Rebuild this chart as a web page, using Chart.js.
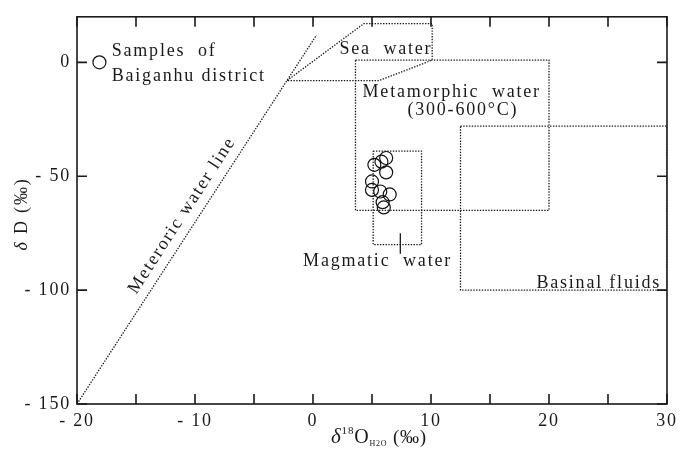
<!DOCTYPE html>
<html>
<head>
<meta charset="utf-8">
<script src="https://cdn.jsdelivr.net/npm/chart.js@4/dist/chart.umd.min.js"></script>
<style>
	html, body { margin: 0; padding: 0; background: #fff; }
</style>
</head>
<body>
<canvas id="chart" width="682" height="454"></canvas>
<script>
// Dữ liệu mẫu (δ18O, δD)
const sampleO = [6.2, 5.8, 5.2, 6.2, 5.0, 5.0, 5.7, 6.5, 5.9, 6.0];
const sampleD = [-42, -43.6, -45, -48.3, -52.3, -56, -56.7, -58, -61.4, -63.7];

// Đường nước khí tượng
const meteoricO = [-20, 0.3];
const meteoricD = [-150, 12];

// Các vùng nước
const seaWaterO = [-2.2, 4.3, 10.1, 10.1, 5.6, -2.2];
const seaWaterD = [-8, 17, 17, 1, -8, -8];
const metamorphicO = [3.6, 20, 20, 3.6, 3.6];
const metamorphicD = [1, 1, -65, -65, 1];
const magmaticO = [5.1, 9.2, 9.2, 5.1, 5.1];
const magmaticD = [-39, -39, -80, -80, -39];
const magmaticPointerO = [7.4, 7.4];
const magmaticPointerD = [-75, -84];
const basinalO = [12.5, 30, 30, 12.5, 12.5];
const basinalD = [-28, -28, -100, -100, -28];

// Ký hiệu chú thích
const legendO = [-18.1];
const legendD = [0];

// Nhãn trục
const xTicks = [-20, -10, 0, 10, 20, 30];
const yTicks = [0, -50, -100, -150];

const serif = '"Liberation Serif", "Times New Roman", serif';
const ink = '#1a1a1a';

function pts(xs, ys) {
	return xs.map(function(v, i) { return { x: v, y: ys[i] }; });
}

function fmt(v) {
	return v < 0 ? '- ' + Math.abs(v) : '' + v;
}

function dotted(xs, ys) {
	return {
		data: pts(xs, ys),
		showLine: true,
		borderColor: ink,
		borderWidth: 1.3,
		borderDash: [1.4, 1.4],
		pointRadius: 0,
		fill: false
	};
}

// Chữ chú thích (tọa độ theo dữ liệu)
const notes = [
	{ text: 'Samples  of', x: -17.06, y: 2.8, align: 'left' },
	{ text: 'Baiganhu district', x: -17.06, y: -8.3, align: 'left' },
	{ text: 'Sea  water', x: 2.24, y: 3.6, align: 'left' },
	{ text: 'Metamorphic  water', x: 4.2, y: -15.3, align: 'left' },
	{ text: '(300-600°C)', x: 8.0, y: -23.2, align: 'left' },
	{ text: 'Magmatic  water', x: -0.84, y: -89.4, align: 'left' },
	{ text: 'Basinal fluids', x: 29.5, y: -99.1, align: 'right' }
];

const decor = {
	id: 'decor',
	beforeDraw(chart) {
		chart.ctx.letterSpacing = '1.8px';
	},
	afterDatasetsDraw(chart) {
		const ctx = chart.ctx;
		const a = chart.chartArea;
		const x = chart.scales.x;
		const y = chart.scales.y;
		ctx.save();
		ctx.setLineDash([]);
		ctx.letterSpacing = '1.8px';

		// khung và vạch chia hướng vào trong
		ctx.strokeStyle = ink;
		ctx.lineWidth = 1.6;
		ctx.strokeRect(a.left, a.top, a.right - a.left, a.bottom - a.top);
		ctx.beginPath();
		x.ticks.forEach(function(t) {
			const px = x.getPixelForValue(t.value);
			ctx.moveTo(px, a.bottom); ctx.lineTo(px, a.bottom - 10);
			ctx.moveTo(px, a.top); ctx.lineTo(px, a.top + 10);
		});
		y.ticks.forEach(function(t) {
			const py = y.getPixelForValue(t.value);
			ctx.moveTo(a.left, py); ctx.lineTo(a.left + 10, py);
			ctx.moveTo(a.right, py); ctx.lineTo(a.right - 10, py);
		});
		ctx.stroke();

		// chữ chú thích
		ctx.fillStyle = ink;
		ctx.font = '18px ' + serif;
		ctx.textBaseline = 'alphabetic';
		notes.forEach(function(n) {
			ctx.textAlign = n.align;
			ctx.fillText(n.text, x.getPixelForValue(n.x), y.getPixelForValue(n.y));
		});

		// nhãn đường nước khí tượng, xoay theo đường
		const x0 = x.getPixelForValue(meteoricO[0]), y0 = y.getPixelForValue(meteoricD[0]);
		const x1 = x.getPixelForValue(meteoricO[1]), y1 = y.getPixelForValue(meteoricD[1]);
		const ang = Math.atan2(y1 - y0, x1 - x0);
		ctx.save();
		ctx.translate(x.getPixelForValue(-11.1), y.getPixelForValue(-67.2));
		ctx.rotate(ang);
		ctx.textAlign = 'center';
		ctx.textBaseline = 'middle';
		ctx.fillText('Meteroric water line', 0, 0);
		ctx.restore();

		// tiêu đề trục Y
		ctx.save();
		ctx.translate(22, 214);
		ctx.rotate(-Math.PI / 2);
		ctx.textBaseline = 'middle';
		ctx.textAlign = 'left';
		ctx.font = 'italic 18px ' + serif;
		const w1 = ctx.measureText('δ').width;
		ctx.font = '18px ' + serif;
		const w2 = ctx.measureText(' D (‰)').width;
		let sx = -(w1 + w2) / 2;
		ctx.font = 'italic 18px ' + serif;
		ctx.fillText('δ', sx, 0);
		ctx.font = '18px ' + serif;
		ctx.fillText(' D (‰)', sx + w1, 0);
		ctx.restore();

		// tiêu đề trục X
		const parts = [
			{ t: 'δ', f: 'italic 21px ', dy: 0 },
			{ t: '18', f: '11px ', dy: -9 },
			{ t: 'O', f: '20px ', dy: 0 },
			{ t: 'H2O', f: '8px ', dy: 3 },
			{ t: ' (‰)', f: '19px ', dy: 0 }
		];
		ctx.textAlign = 'left';
		ctx.textBaseline = 'alphabetic';
		ctx.letterSpacing = '0.8px';
		let total = 0;
		parts.forEach(function(p) {
			ctx.font = p.f + serif;
			p.w = ctx.measureText(p.t).width;
			total += p.w;
		});
		let cx = 379 - total / 2;
		parts.forEach(function(p) {
			ctx.font = p.f + serif;
			ctx.fillText(p.t, cx, 443 + p.dy);
			cx += p.w;
		});
		ctx.restore();
	}
};

const ctx = document.getElementById('chart').getContext('2d');
const chart = new Chart(ctx, {
	type: 'scatter',
	data: {
		datasets: [
			dotted(meteoricO, meteoricD),
			dotted(seaWaterO, seaWaterD),
			dotted(metamorphicO, metamorphicD),
			dotted(magmaticO, magmaticD),
			dotted(basinalO, basinalD),
			{
				data: pts(magmaticPointerO, magmaticPointerD),
				showLine: true,
				borderColor: ink,
				borderWidth: 1.3,
				borderDash: [],
				pointRadius: 0
			},
			{
				data: pts(sampleO, sampleD),
				pointStyle: 'circle',
				pointRadius: 6.5,
				borderColor: '#111',
				borderWidth: 1.2,
				backgroundColor: 'rgba(0,0,0,0)'
			},
			{
				data: pts(legendO, legendD),
				pointStyle: 'circle',
				pointRadius: 6.5,
				borderColor: '#111',
				borderWidth: 1.2,
				backgroundColor: 'rgba(0,0,0,0)',
				clip: false
			}
		]
	},
	options: {
		responsive: false,
		animation: false,
		devicePixelRatio: 1,
		layout: { padding: { top: 14, right: 10, left: 0, bottom: 0 } },
		plugins: { legend: { display: false }, tooltip: { enabled: false } },
		scales: {
			x: {
				type: 'linear',
				min: -20,
				max: 30,
				grid: { display: false, drawTicks: false },
				border: { display: false },
				afterFit: function(s) { s.height = 50; },
				ticks: {
					stepSize: 5,
					autoSkip: false,
					maxRotation: 0,
					padding: 6,
					color: ink,
					font: { family: serif, size: 18 },
					callback: function(v) { return xTicks.indexOf(v) >= 0 ? fmt(v) : ''; }
				}
			},
			y: {
				type: 'linear',
				min: -150,
				max: 20,
				grid: { display: false, drawTicks: false },
				border: { display: false },
				afterFit: function(s) { s.width = 77; },
				afterBuildTicks: function(s) {
					s.ticks = s.ticks.filter(function(t) { return yTicks.indexOf(t.value) >= 0; });
				},
				ticks: {
					stepSize: 50,
					padding: 6,
					color: ink,
					font: { family: serif, size: 18 },
					callback: function(v) { return fmt(v); }
				}
			}
		}
	},
	plugins: [decor]
});
</script>
</body>
</html>
